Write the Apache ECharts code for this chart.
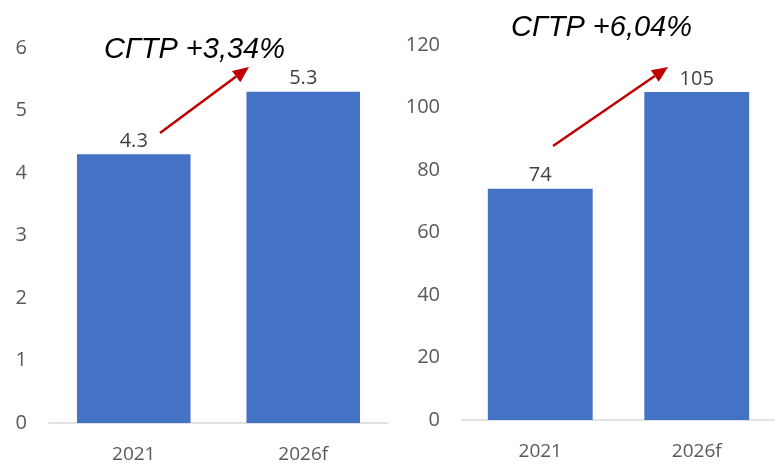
<!DOCTYPE html>
<html><head><meta charset="utf-8">
<script src="https://cdn.jsdelivr.net/npm/echarts@6/dist/echarts.min.js"></script>
<style>html,body{margin:0;padding:0;background:#fff}#c{width:775px;height:464px}</style>
</head><body><div id="c"></div>
<script>
var categories = ['2021', '2026f'];
var leftValues = [4.3, 5.3];
var rightValues = [74, 105];
var leftTicks = {min: 0, max: 6, interval: 1};
var rightTicks = {min: 0, max: 120, interval: 20};
var leftTitle = 'СГТР +3,34%';
var rightTitle = 'СГТР +6,04%';

var FONT = '"Open Sans", "Noto Sans", sans-serif';
var BAR = '#4472C4';
var chart = echarts.init(document.getElementById('c'), null, {renderer: 'canvas'});

function xAx(gi) {
  return {
    type: 'category', gridIndex: gi, data: categories,
    axisLine: {show: true, lineStyle: {color: '#D9D9D9', width: 1.5}},
    axisTick: {show: false},
    axisLabel: {color: '#595959', fontSize: 19, fontFamily: FONT, margin: 22}
  };
}
function yAx(gi, t) {
  return {
    type: 'value', gridIndex: gi, min: t.min, max: t.max, interval: t.interval,
    splitLine: {show: false}, axisLine: {show: false}, axisTick: {show: false},
    axisLabel: {color: '#595959', fontSize: 20, fontFamily: FONT, margin: 22, padding: [4, 0, 0, 0]}
  };
}
function bar(gi, vals) {
  return {
    type: 'bar', xAxisIndex: gi, yAxisIndex: gi, data: vals, barWidth: '67%',
    itemStyle: {color: BAR},
    label: {show: true, position: 'top', distance: 3, color: '#404040', fontSize: 20, fontFamily: FONT}
  };
}

var arrowColor = '#C00000';
function arrow(x1, y1, x2, y2) {
  var dx = x2 - x1, dy = y2 - y1, len = Math.sqrt(dx*dx + dy*dy);
  var ux = dx/len, uy = dy/len, hl = 16, hw = 7;
  var bx = x2 - ux*hl, by = y2 - uy*hl;
  return [
    {type: 'line', shape: {x1: x1, y1: y1, x2: bx, y2: by}, style: {stroke: arrowColor, lineWidth: 2.5}, z: 100},
    {type: 'polygon', shape: {points: [[x2, y2], [bx - uy*hw, by + ux*hw], [bx + uy*hw, by - ux*hw]]}, style: {fill: arrowColor}, z: 100}
  ];
}

chart.setOption({
  animation: false,
  backgroundColor: '#ffffff',
  title: [
    {text: leftTitle, left: 99, top: 30, textStyle: {fontFamily: '"Liberation Sans", Arial, sans-serif', fontStyle: 'italic', fontWeight: 'normal', fontSize: 29, color: '#000'}},
    {text: rightTitle, left: 506, top: 8, textStyle: {fontFamily: '"Liberation Sans", Arial, sans-serif', fontStyle: 'italic', fontWeight: 'normal', fontSize: 29, color: '#000'}}
  ],
  grid: [
    {left: 49, width: 339, top: 48, height: 375},
    {left: 462, width: 313, top: 45, height: 375}
  ],
  xAxis: [xAx(0), xAx(1)],
  yAxis: [yAx(0, leftTicks), yAx(1, rightTicks)],
  series: [bar(0, leftValues), bar(1, rightValues)],
  graphic: arrow(160, 133, 249, 67).concat(arrow(553, 146, 668, 67))
});
</script></body></html>
